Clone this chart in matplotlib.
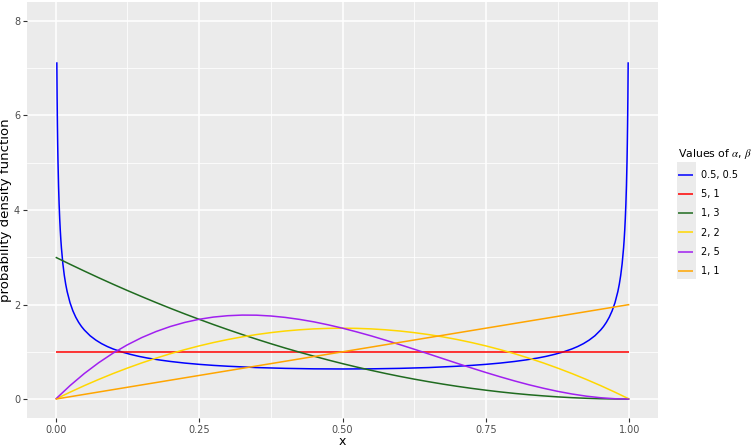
import matplotlib.pyplot as plt
from matplotlib.patches import Rectangle

plt.rcParams["mathtext.fontset"] = "stix"

# values
x_blue = [0.002, 0.0025, 0.003, 0.0035, 0.004, 0.005, 0.006, 0.007, 0.008, 0.009, 0.01,
          0.0125, 0.015, 0.0175, 0.02, 0.025, 0.03, 0.035, 0.04, 0.045, 0.05, 0.06, 0.07,
          0.08, 0.09, 0.1, 0.115, 0.13, 0.145, 0.16, 0.18, 0.2, 0.225, 0.25, 0.275, 0.3,
          0.35, 0.4, 0.45, 0.5,
          0.55, 0.6, 0.65, 0.7, 0.725, 0.75, 0.775, 0.8, 0.82, 0.84, 0.855, 0.87, 0.885,
          0.9, 0.91, 0.92, 0.93, 0.94, 0.95, 0.955, 0.96, 0.965, 0.97, 0.975, 0.98, 0.9825,
          0.985, 0.9875, 0.99, 0.991, 0.992, 0.993, 0.994, 0.995, 0.996, 0.9965, 0.997,
          0.9975, 0.998]
y_blue = [7.125, 6.374, 5.820, 5.390, 5.043, 4.513, 4.122, 3.818, 3.573, 3.371, 3.199,
          2.865, 2.619, 2.428, 2.274, 2.039, 1.866, 1.732, 1.624, 1.535, 1.461, 1.340, 1.248,
          1.173, 1.112, 1.061, 0.998, 0.947, 0.904, 0.868, 0.829, 0.796, 0.762, 0.735, 0.713, 0.695,
          0.667, 0.650, 0.640, 0.637,
          0.640, 0.650, 0.667, 0.695, 0.713, 0.735, 0.762, 0.796, 0.829, 0.868, 0.904, 0.947, 0.998,
          1.061, 1.112, 1.173, 1.248, 1.340, 1.461, 1.535, 1.624, 1.732, 1.866, 2.039, 2.274, 2.428,
          2.619, 2.865, 3.199, 3.371, 3.573, 3.818, 4.122, 4.513, 5.043, 5.390, 5.820,
          6.374, 7.125]

x_red = [0.0, 1.0]
y_red = [1.0, 1.0]

x_grid = [0.0, 0.025, 0.05, 0.075, 0.1, 0.125, 0.15, 0.175, 0.2, 0.225, 0.25,
          0.275, 0.3, 0.325, 0.35, 0.375, 0.4, 0.425, 0.45, 0.475, 0.5,
          0.525, 0.55, 0.575, 0.6, 0.625, 0.65, 0.675, 0.7, 0.725, 0.75,
          0.775, 0.8, 0.825, 0.85, 0.875, 0.9, 0.925, 0.95, 0.975, 1.0]
y_green = [3.0, 2.852, 2.708, 2.567, 2.43, 2.297, 2.168, 2.042, 1.92, 1.802, 1.688,
           1.577, 1.47, 1.367, 1.268, 1.172, 1.08, 0.992, 0.908, 0.827, 0.75,
           0.677, 0.608, 0.542, 0.48, 0.422, 0.368, 0.317, 0.27, 0.227, 0.188,
           0.152, 0.12, 0.092, 0.068, 0.047, 0.03, 0.017, 0.0075, 0.002, 0.0]
y_gold = [0.0, 0.146, 0.285, 0.416, 0.54, 0.656, 0.765, 0.866, 0.96, 1.046, 1.125,
          1.196, 1.26, 1.316, 1.365, 1.406, 1.44, 1.466, 1.485, 1.496, 1.5,
          1.496, 1.485, 1.466, 1.44, 1.406, 1.365, 1.316, 1.26, 1.196, 1.125,
          1.046, 0.96, 0.866, 0.765, 0.656, 0.54, 0.416, 0.285, 0.146, 0.0]
y_purple = [0.0, 0.285, 0.542, 0.770, 0.972, 1.148, 1.301, 1.429, 1.536, 1.622, 1.688,
            1.735, 1.764, 1.777, 1.775, 1.758, 1.728, 1.686, 1.634, 1.571, 1.5,
            1.421, 1.337, 1.246, 1.152, 1.055, 0.956, 0.856, 0.756, 0.658, 0.5625,
            0.471, 0.384, 0.303, 0.230, 0.164, 0.108, 0.062, 0.0285, 0.0073, 0.0]

x_orange = [0.0, 1.0]
y_orange = [0.0, 2.0]

labels = ["0.5, 0.5", "5, 1", "1, 3", "2, 2", "2, 5", "1, 1"]
colors = ["#0000FF", "#FF0000", "#1F6B1F", "#FFD700", "#A020F0", "#FFA500"]

fig = plt.figure(figsize=(7.52, 4.47), dpi=100)
ax = fig.add_axes([27/752, 29/447, 631/752, 416/447])
ax.set_facecolor("#EBEBEB")

series = [(x_blue, y_blue), (x_red, y_red), (x_grid, y_green),
          (x_grid, y_gold), (x_grid, y_purple), (x_orange, y_orange)]
for (xs, ys), c, lab in zip(series, colors, labels):
    ax.plot(xs, ys, color=c, lw=1.1, label=lab, solid_capstyle="butt")

ax.set_xlim(-0.05, 1.05)
ax.set_ylim(-0.4, 8.4)
ax.set_xticks([0, 0.25, 0.5, 0.75, 1.0])
ax.set_xticklabels(["0.00", "0.25", "0.50", "0.75", "1.00"])
ax.set_yticks([0, 2, 4, 6, 8])
ax.set_xticks([0.125, 0.375, 0.625, 0.875], minor=True)
ax.set_yticks([1, 3, 5, 7], minor=True)
ax.grid(which="major", color="white", lw=1.1)
ax.grid(which="minor", color="white", lw=0.55)
ax.set_axisbelow(True)
for s in ax.spines.values():
    s.set_visible(False)
ax.tick_params(which="major", length=3, color="#333333", labelsize=7, labelcolor="#4D4D4D", pad=2)
ax.tick_params(which="minor", length=0)
ax.set_xlabel("x", fontsize=9, labelpad=0)
ax.set_ylabel("probability density function", fontsize=9.5)
ax.yaxis.set_label_coords(-0.0238, 0.5)

fig.patches.append(Rectangle((677/752, (447-279)/447), 19/752, 117/447,
                             transform=fig.transFigure, facecolor="#EBEBEB",
                             edgecolor="none", zorder=0))
leg = fig.legend(loc="upper left", bbox_to_anchor=(669/752, (447-138)/447),
                 frameon=False, fontsize=7, title="Values of $\\alpha$, $\\beta$",
                 title_fontsize=7.8, handlelength=1.6, labelspacing=0.95,
                 handletextpad=0.8)
leg._legend_box.align = "left"

fig.savefig("out.png", dpi=100)
